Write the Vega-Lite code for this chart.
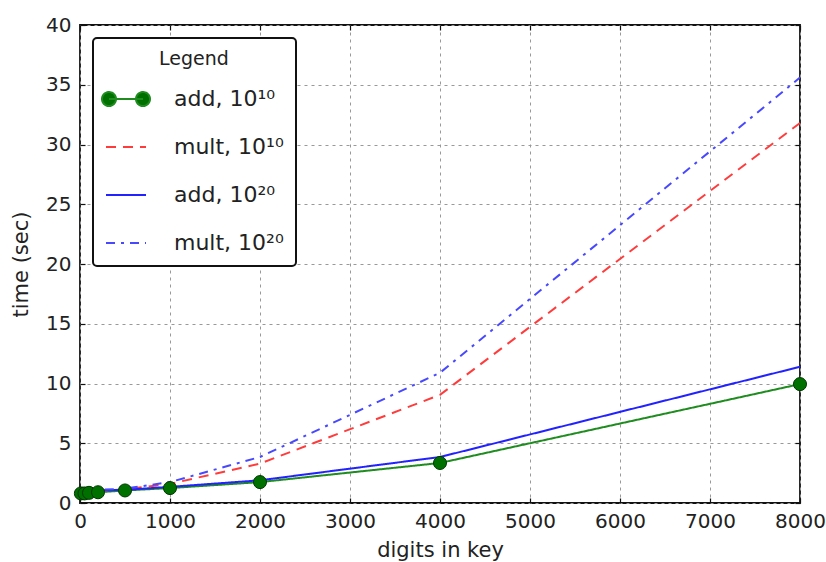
{
  "$schema": "https://vega.github.io/schema/vega-lite/v6.json",
  "width": 720,
  "height": 478,
  "autosize": {"type": "none"},
  "padding": {"left": 80, "top": 25, "right": 26, "bottom": 59},
  "background": "white",
  "config": {
    "font": "DejaVu Sans",
    "view": {"stroke": "#111111", "strokeWidth": 1.8},
    "axis": {
      "grid": true,
      "gridColor": "#999999",
      "gridDash": [3, 4],
      "gridWidth": 1,
      "domain": false,
      "ticks": true,
      "tickSize": -5,
      "tickColor": "#111111",
      "tickWidth": 1.2,
      "labelFont": "DejaVu Sans",
      "labelFontSize": 20,
      "labelColor": "#222222",
      "titleFont": "DejaVu Sans",
      "titleFontSize": 21,
      "titleFontWeight": "normal",
      "titleColor": "#222222",
      "format": "d"
    },
    "legend": {
      "orient": "top-left",
      "offset": 13,
      "fillColor": "white",
      "strokeColor": "#111111",
      "strokeWidth": 2,
      "cornerRadius": 4,
      "padding": 12,
      "titleFont": "DejaVu Sans",
      "titleFontSize": 19,
      "titleFontWeight": "normal",
      "titleColor": "#222222",
      "titleAnchor": "middle",
      "titlePadding": 9,
      "labelFont": "DejaVu Sans",
      "labelFontSize": 22,
      "labelColor": "#222222",
      "labelOffset": 27,
      "labelExpr": "datum.label + '\u00a0\u00a0'",
      "symbolSize": 1600,
      "symbolStrokeWidth": 2,
      "rowPadding": 16
    }
  },
  "data": {
    "values": [
      {"series": "add, 10¹⁰", "x": 10, "y": 0.8},
      {"series": "add, 10¹⁰", "x": 50, "y": 0.8},
      {"series": "add, 10¹⁰", "x": 100, "y": 0.85},
      {"series": "add, 10¹⁰", "x": 200, "y": 0.9},
      {"series": "add, 10¹⁰", "x": 500, "y": 1.05},
      {"series": "add, 10¹⁰", "x": 1000, "y": 1.25},
      {"series": "add, 10¹⁰", "x": 2000, "y": 1.75},
      {"series": "add, 10¹⁰", "x": 4000, "y": 3.35},
      {"series": "add, 10¹⁰", "x": 8000, "y": 9.95},
      {"series": "mult, 10¹⁰", "x": 10, "y": 0.9},
      {"series": "mult, 10¹⁰", "x": 50, "y": 0.9},
      {"series": "mult, 10¹⁰", "x": 100, "y": 0.95},
      {"series": "mult, 10¹⁰", "x": 200, "y": 1.0},
      {"series": "mult, 10¹⁰", "x": 500, "y": 1.15},
      {"series": "mult, 10¹⁰", "x": 1000, "y": 1.6},
      {"series": "mult, 10¹⁰", "x": 2000, "y": 3.3},
      {"series": "mult, 10¹⁰", "x": 4000, "y": 9.05},
      {"series": "mult, 10¹⁰", "x": 8000, "y": 31.8},
      {"series": "add, 10²⁰", "x": 10, "y": 1.0},
      {"series": "add, 10²⁰", "x": 50, "y": 1.0},
      {"series": "add, 10²⁰", "x": 100, "y": 1.0},
      {"series": "add, 10²⁰", "x": 200, "y": 1.05},
      {"series": "add, 10²⁰", "x": 500, "y": 1.1},
      {"series": "add, 10²⁰", "x": 1000, "y": 1.35},
      {"series": "add, 10²⁰", "x": 2000, "y": 1.9},
      {"series": "add, 10²⁰", "x": 4000, "y": 3.85},
      {"series": "add, 10²⁰", "x": 8000, "y": 11.4},
      {"series": "mult, 10²⁰", "x": 10, "y": 1.0},
      {"series": "mult, 10²⁰", "x": 50, "y": 1.0},
      {"series": "mult, 10²⁰", "x": 100, "y": 1.05},
      {"series": "mult, 10²⁰", "x": 200, "y": 1.1},
      {"series": "mult, 10²⁰", "x": 500, "y": 1.2},
      {"series": "mult, 10²⁰", "x": 1000, "y": 1.75},
      {"series": "mult, 10²⁰", "x": 2000, "y": 3.85},
      {"series": "mult, 10²⁰", "x": 4000, "y": 10.9},
      {"series": "mult, 10²⁰", "x": 8000, "y": 35.6}
    ]
  },
  "layer": [
    {
      "mark": {"type": "line", "strokeWidth": 2, "clip": true},
      "encoding": {
        "x": {
          "field": "x", "type": "quantitative",
          "scale": {"domain": [0, 8000], "nice": false, "zero": false},
          "axis": {"orient": "bottom", "values": [0, 1000, 2000, 3000, 4000, 5000, 6000, 7000, 8000], "title": "digits in key", "labelPadding": 13, "titlePadding": 8, "labelFlush": false}
        },
        "y": {
          "field": "y", "type": "quantitative",
          "scale": {"domain": [0, 40], "nice": false},
          "axis": {"orient": "left", "values": [0, 5, 10, 15, 20, 25, 30, 35, 40], "title": "time (sec)", "labelPadding": 14, "titlePadding": 14, "labelFlush": false}
        },
        "color": {
          "field": "series", "type": "nominal",
          "scale": {"domain": ["add, 10¹⁰", "mult, 10¹⁰", "add, 10²⁰", "mult, 10²⁰"], "range": ["#1e8c1e", "#ff3c3c", "#2222ff", "#4848ff"]},
          "legend": {"title": "Legend"}
        },
        "strokeDash": {
          "field": "series", "type": "nominal",
          "scale": {"domain": ["add, 10¹⁰", "mult, 10¹⁰", "add, 10²⁰", "mult, 10²⁰"], "range": [[1, 0], [10, 7], [1, 0], [9, 6, 3, 6]]},
          "legend": {"title": "Legend"}
        }
      }
    },
    {
      "transform": [{"filter": "datum.series === 'add, 10¹⁰'"}],
      "mark": {"type": "point", "shape": "circle", "filled": true, "size": 170, "fill": "#007000", "stroke": "#003800", "strokeWidth": 1, "opacity": 1, "clip": false},
      "encoding": {
        "x": {"field": "x", "type": "quantitative", "axis": null},
        "y": {"field": "y", "type": "quantitative", "axis": null}
      }
    },
    {
      "transform": [{"filter": "false"}],
      "mark": {"type": "point", "filled": true, "fill": "#007000", "stroke": "#1e8c1e", "opacity": 1},
      "encoding": {
        "x": {"field": "x", "type": "quantitative", "axis": null},
        "y": {"field": "y", "type": "quantitative", "axis": null},
        "shape": {
          "field": "series", "type": "nominal",
          "scale": {"domain": ["add, 10¹⁰", "mult, 10¹⁰", "add, 10²⁰", "mult, 10²⁰"], "range": ["M-0.85,0L0.85,0M-0.5,0A0.35,0.35,0,1,1,-1.2,0A0.35,0.35,0,1,1,-0.5,0ZM1.2,0A0.35,0.35,0,1,1,0.5,0A0.35,0.35,0,1,1,1.2,0Z", "stroke", "stroke", "stroke"]},
          "legend": {"title": "Legend"}
        }
      }
    },
    {
      "mark": {"type": "point", "opacity": 0},
      "encoding": {
        "x": {"field": "x", "type": "quantitative",
          "axis": {"orient": "top", "values": [0, 1000, 2000, 3000, 4000, 5000, 6000, 7000, 8000], "labels": false, "grid": false, "title": null}},
        "y": {"field": "y", "type": "quantitative",
          "axis": {"orient": "right", "values": [0, 5, 10, 15, 20, 25, 30, 35, 40], "labels": false, "grid": false, "title": null}}
      }
    }
  ],
  "resolve": {"axis": {"x": "independent", "y": "independent"}}
}
